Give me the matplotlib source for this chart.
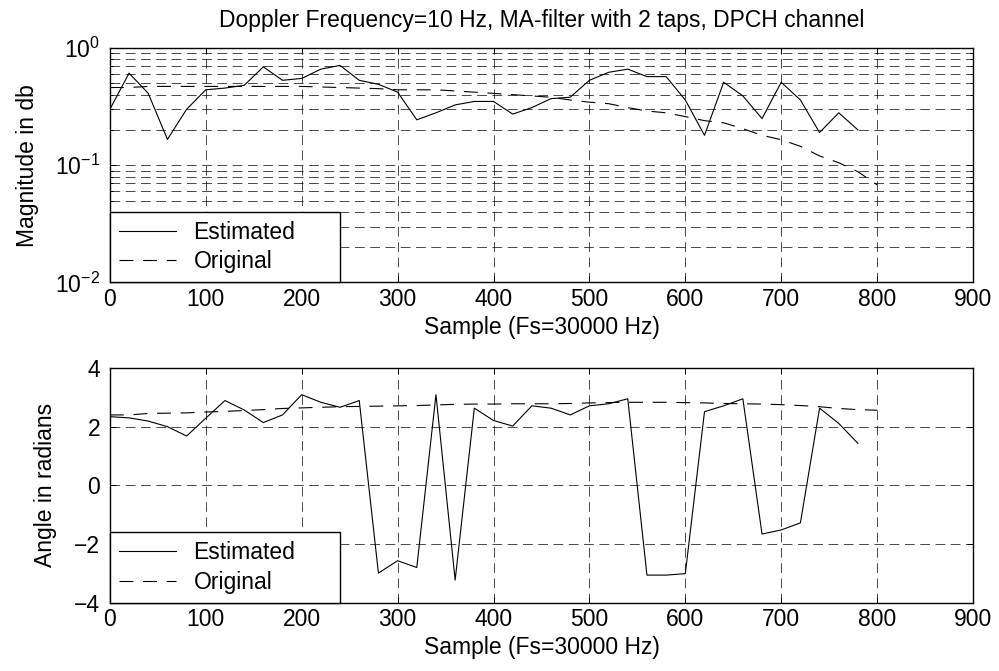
import numpy as np
import matplotlib
matplotlib.use("Agg")
import matplotlib.pyplot as plt

plt.rcParams['font.family'] = ['Liberation Sans', 'DejaVu Sans']
plt.rcParams['mathtext.fontset'] = 'custom'
plt.rcParams['mathtext.rm'] = 'Liberation Sans'
plt.rcParams['mathtext.it'] = 'Liberation Sans'
plt.rcParams['lines.scale_dashes'] = False

# estimated channel, sampled every 20 samples
x_est = np.arange(0, 800, 20)
mag_est = [0.30, 0.61, 0.41, 0.166, 0.30, 0.44, 0.455, 0.48, 0.69, 0.53,
           0.55, 0.66, 0.71, 0.53, 0.49, 0.42, 0.244, 0.28, 0.327, 0.35,
           0.35, 0.273, 0.31, 0.37, 0.38, 0.53, 0.62, 0.66, 0.57, 0.57,
           0.36, 0.18, 0.51, 0.39, 0.25, 0.51, 0.36, 0.19, 0.28, 0.20]
ang_est = [2.34, 2.30, 2.19, 2.00, 1.68, 2.29, 2.89, 2.57, 2.14, 2.40,
           3.09, 2.83, 2.66, 2.89, -2.99, -2.57, -2.80, 3.09, -3.23, 2.63,
           2.21, 2.02, 2.71, 2.63, 2.40, 2.71, 2.78, 2.95, -3.06, -3.06,
           -3.01, 2.51, 2.71, 2.95, -1.66, -1.52, -1.28, 2.63, 2.11, 1.43]

# original channel
x_orig = np.arange(0, 820, 20)
mag_orig = [0.46, 0.46, 0.47, 0.47, 0.47, 0.47, 0.47, 0.47, 0.47, 0.47,
            0.47, 0.465, 0.46, 0.455, 0.45, 0.44, 0.44, 0.44, 0.43, 0.42,
            0.41, 0.40, 0.39, 0.38, 0.36, 0.345, 0.335, 0.31, 0.29, 0.28,
            0.26, 0.24, 0.23, 0.205, 0.18, 0.165, 0.145, 0.12, 0.105, 0.088,
            0.068]
ang_orig = [2.40, 2.40, 2.45, 2.46, 2.47, 2.50, 2.52, 2.55, 2.58, 2.62,
            2.64, 2.66, 2.68, 2.69, 2.70, 2.71, 2.72, 2.74, 2.76, 2.77,
            2.77, 2.78, 2.78, 2.78, 2.79, 2.81, 2.82, 2.83, 2.83, 2.83,
            2.82, 2.81, 2.79, 2.78, 2.77, 2.75, 2.72, 2.68, 2.62, 2.58,
            2.56]

fig = plt.figure(figsize=(9.99, 6.71), dpi=100)
ax1 = fig.add_axes([0.110, 0.579, 0.864, 0.3495])
ax2 = fig.add_axes([0.110, 0.1018, 0.864, 0.3498])

grid_kw = dict(color='k', linestyle=(0, (7, 4)), linewidth=0.5)
fs = 16.5


def style(ax):
    ax.set_xlim(0, 900)
    ax.set_xticks(np.arange(0, 1000, 100))
    ax.tick_params(direction='in', top=True, right=True, labelsize=fs,
                   length=4, width=0.7)
    ax.tick_params(axis='x', pad=4)
    ax.tick_params(axis='y', pad=7)
    ax.tick_params(which='minor', direction='in', top=True, right=True,
                   length=2, width=0.7)
    for s in ax.spines.values():
        s.set_linewidth(1.0)
    ax.set_xlabel("Sample (Fs=30000 Hz)", fontsize=fs, labelpad=3.5)
    ax.set_axisbelow(True)


ax1.semilogy(x_est, mag_est, color='k', lw=0.8, label='Estimated')
ax1.semilogy(x_orig, mag_orig, color='k', lw=0.8, linestyle=(0, (10, 7)),
             label='Original')
ax1.set_ylim(0.01, 1)
style(ax1)
ax1.grid(True, which='both', **grid_kw)
ax1.set_ylabel("Magnitude in db", fontsize=fs)
ax1.yaxis.set_label_coords(-0.082, 0.5)
ax1.set_title("Doppler Frequency=10 Hz, MA-filter with 2 taps, DPCH channel",
              fontsize=fs, pad=15)

ax2.plot(x_est, ang_est, color='k', lw=0.8, label='Estimated')
ax2.plot(x_orig, ang_orig, color='k', lw=0.8, linestyle=(0, (10, 7)),
         label='Original')
ax2.set_ylim(-4, 4)
ax2.set_yticks([-4, -2, 0, 2, 4])
style(ax2)
ax2.grid(True, **grid_kw)
ax2.set_ylabel("Angle in radians", fontsize=fs)
ax2.yaxis.set_label_coords(-0.061, 0.5)

for ax in (ax1, ax2):
    leg = ax.legend(loc='lower left', bbox_to_anchor=(0, 0, 0.2665, 0.3),
                    mode='expand', fontsize=fs, fancybox=False,
                    framealpha=1, edgecolor='k', borderaxespad=0,
                    handlelength=2.5, handletextpad=0.75, borderpad=0.4,
                    labelspacing=0.28)
    leg.get_frame().set_linewidth(1.0)

fig.savefig("out.png", dpi=100)
